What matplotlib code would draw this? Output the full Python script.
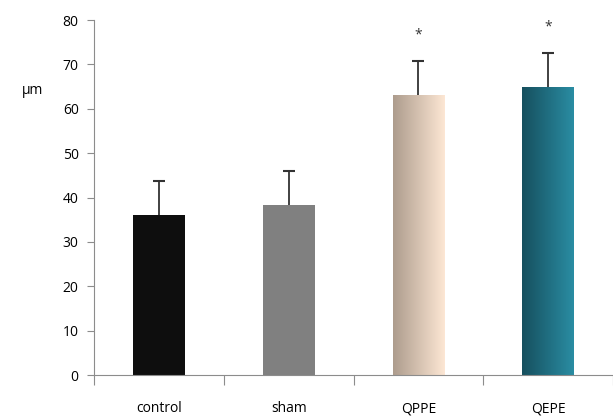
import numpy as np
import matplotlib
matplotlib.use("Agg")
import matplotlib.pyplot as plt
from matplotlib.colors import LinearSegmentedColormap

categories = ["control", "sham", "QPPE", "QEPE"]
means = [36.0, 38.3, 63.0, 64.9]
errors = [7.7, 7.7, 7.7, 7.6]
significant = [False, False, True, True]
yticks = [0, 10, 20, 30, 40, 50, 60, 70, 80]

plt.rcParams['font.family'] = ['Open Sans', 'DejaVu Sans']

fig = plt.figure(figsize=(6.13, 4.17), dpi=100)
ax = fig.add_axes([0.1533, 0.1007, 0.847, 0.8513])

x = np.arange(len(categories)) + 0.5
bars = ax.bar(x, means, width=0.4, color=["#0e0e0e", "#808080", "none", "none"],
              edgecolor="none", zorder=2)

# gradient fills for the last two bars
gradients = [None, None, ("#ad9c8d", "#fde7d4"), ("#164f5e", "#2a8da3")]
for bar, grad in zip(bars, gradients):
    if grad is None:
        continue
    cmap = LinearSegmentedColormap.from_list("g", list(grad))
    bx, by = bar.get_x(), bar.get_y()
    bw, bh = bar.get_width(), bar.get_height()
    img = ax.imshow(np.linspace(0, 1, 256).reshape(1, -1), cmap=cmap,
                    extent=[bx, bx + bw, by, by + bh], aspect="auto",
                    zorder=2, interpolation="bicubic")
    img.set_clip_path(bar)

# upper-only error bars
tops = np.array(means) + np.array(errors)
ax.vlines(x, means, tops, color="#333333", linewidth=1.3, zorder=3)
ax.plot(x, tops, linestyle="none", marker="_", markersize=8,
        markeredgewidth=1.5, color="#333333", zorder=3)

for xi, t, s in zip(x, tops, significant):
    if s:
        ax.text(xi, t + 6.0, "*", ha="center", va="center",
                fontsize=10, color="#333333")

ax.set_xlim(0, len(categories))
ax.set_ylim(0, 80)
ax.set_yticks(yticks)
ax.set_yticklabels([str(t) for t in yticks], fontsize=10)
ax.set_xticks(np.arange(len(categories) + 1))
ax.set_xticklabels([])
ax.set_xticks(x, minor=True)
ax.set_xticklabels(categories, minor=True, fontsize=10)
ax.tick_params(axis="x", which="major", length=7, color="#8c8c8c", direction="out")
ax.tick_params(axis="x", which="minor", length=0, pad=19)
ax.tick_params(axis="y", length=5, color="#8c8c8c", pad=6)

for side in ["top", "right"]:
    ax.spines[side].set_visible(False)
for side in ["left", "bottom"]:
    ax.spines[side].set_color("#8c8c8c")

fig.text(22 / 613, 1 - 90 / 417, "µm", fontsize=10, ha="left", va="center")

fig.savefig("out.png", dpi=100)
